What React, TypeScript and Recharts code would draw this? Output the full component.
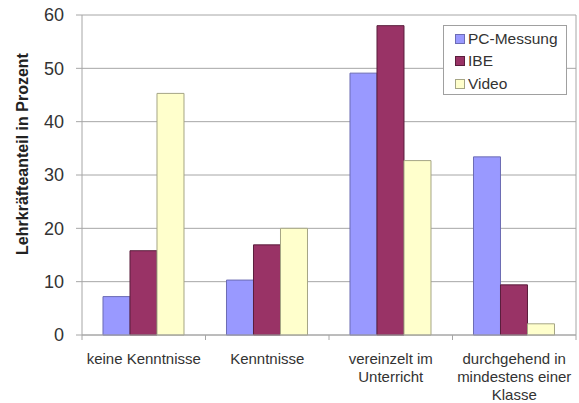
import React from "react";
import { BarChart, Bar, XAxis, YAxis, CartesianGrid, Legend } from "recharts";

const categories = [
  "keine Kenntnisse",
  "Kenntnisse",
  "vereinzelt im\nUnterricht",
  "durchgehend in\nmindestens einer\nKlasse",
];
const seriesNames = ["PC-Messung", "IBE", "Video"];
const pcMessung = [7.2, 10.3, 49.1, 33.4];
const ibe = [15.8, 16.9, 58.0, 9.4];
const video = [45.3, 20.0, 32.7, 2.1];
const yTicks = [0, 10, 20, 30, 40, 50, 60];

const data = categories.map((c, i) => ({
  name: c,
  pc: pcMessung[i],
  ibe: ibe[i],
  video: video[i],
}));

const FONT = "'Liberation Sans', Arial, sans-serif";
const GRID = "#a6a6a6";
const TEXT = "#333";

function XTick(props: any) {
  const { x, y, payload } = props;
  const half = payload && payload.offset ? payload.offset : 0;
  const lines = String(payload.value).split("\n");
  return (
    <g>
      <line x1={x - half} x2={x - half} y1={y} y2={y + 5} stroke={GRID} />
      {props.index === props.visibleTicksCount - 1 ? (
        <line x1={x + half} x2={x + half} y1={y} y2={y + 5} stroke={GRID} />
      ) : null}
      {lines.map((l: string, i: number) => (
        <text
          key={i}
          x={x}
          y={y + 29 + i * 17.8}
          textAnchor="middle"
          fontFamily={FONT}
          fontSize={15}
          fill={TEXT}
        >
          {l}
        </text>
      ))}
    </g>
  );
}

function LegendBox(props: any) {
  const payload = [...(props.payload || [])].sort(
    (a: any, b: any) => seriesNames.indexOf(a.value) - seriesNames.indexOf(b.value)
  );
  return (
    <div
      style={{
        width: 122,
        height: 66,
        border: "1px solid #a0a0a0",
        background: "#fff",
        boxSizing: "content-box",
        fontFamily: FONT,
        fontSize: 15.5,
        color: TEXT,
        paddingTop: 2,
      }}
    >
      {payload.map((p: any, i: number) => (
        <div
          key={i}
          style={{ display: "flex", alignItems: "center", height: 22.3, paddingLeft: 11 }}
        >
          <span
            style={{
              display: "inline-block",
              width: 8,
              height: 8,
              background: p.color,
              border: "1px solid " + (p.payload && p.payload.stroke ? p.payload.stroke : "#666"),
              marginRight: 3,
            }}
          />
          <span>{p.value}</span>
        </div>
      ))}
    </div>
  );
}

export default function App() {
  return (
    <div style={{ position: "absolute", left: 0, top: 0, background: "#fff" }}>
      <BarChart
        width={579}
        height={403}
        data={data}
        margin={{ top: 15, right: 2, left: 0, bottom: 0 }}
        barCategoryGap="17%"
        barGap={0}
      >
        <CartesianGrid vertical={false} stroke={GRID} />
        <XAxis
          dataKey="name"
          height={68}
          tickSize={0}
          tickMargin={0}
          tickLine={false}
          axisLine={{ stroke: GRID }}
          tick={<XTick />}
          interval={0}
        />
        <YAxis
          width={82}
          domain={[0, 60]}
          ticks={yTicks}
          tickSize={6}
          tickMargin={12}
          tickLine={{ stroke: GRID }}
          axisLine={{ stroke: GRID }}
          tick={{ fontSize: 18, fill: TEXT, fontFamily: FONT }}
          label={{
            content: () => (
              <text
                x={28}
                y={154}
                transform="rotate(-90 28 154)"
                textAnchor="middle"
                fontFamily={FONT}
                fontSize={16}
                fontWeight="bold"
                fill="#222"
              >
                Lehrkräfteanteil in Prozent
              </text>
            ),
          }}
        />
        <YAxis
          yAxisId="r"
          orientation="right"
          width={1}
          domain={[0, 60]}
          tick={false}
          tickLine={false}
          axisLine={{ stroke: GRID }}
        />
        <Legend
          layout="horizontal"
          verticalAlign="middle"
          align="center"
          width={124}
          wrapperStyle={{ left: 443, top: 25, width: 124 }}
          content={<LegendBox />}
        />
        <Bar dataKey="pc" name={seriesNames[0]} fill="#9999ff" stroke="#6c6cb4" isAnimationActive={false} />
        <Bar dataKey="ibe" name={seriesNames[1]} fill="#993366" stroke="#5a1e3c" isAnimationActive={false} />
        <Bar dataKey="video" name={seriesNames[2]} fill="#ffffcc" stroke="#a5a585" isAnimationActive={false} />
      </BarChart>
    </div>
  );
}
